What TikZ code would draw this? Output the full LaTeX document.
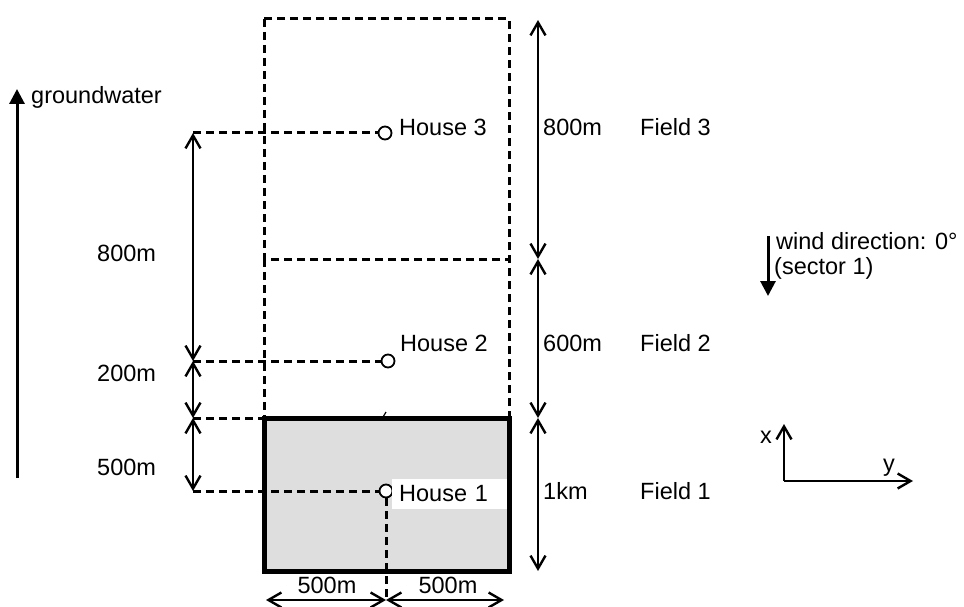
\documentclass[tikz,border=0pt]{standalone}
\usepackage{fontspec}
\setmainfont{Liberation Sans}
\usetikzlibrary{arrows.meta}
\begin{document}
\begin{tikzpicture}[x=1pt,y=-1pt,
  font=\fontsize{23.5}{27}\selectfont,
  dline/.style={line width=3pt, dash pattern=on 8pt off 5pt},
  dim/.style={line width=2.4pt, {Straight Barb[length=13pt,width=15pt]}-{Straight Barb[length=13pt,width=15pt]}},
  flow/.style={line width=3pt, -{Triangle[length=15pt,width=15pt]}},
  axis/.style={line width=2.4pt, -{Straight Barb[length=13pt,width=15pt]}},
  house/.style={circle, draw, line width=1.8pt, fill=white, minimum size=13pt, inner sep=0pt},
  lbl/.style={anchor=west, inner sep=0pt}]
\useasboundingbox (0,0) rectangle (964,607);
% field corners
\coordinate (f3tl) at (264,19);
\coordinate (f3br) at (509,259);
\coordinate (f2tl) at (264,259);
\coordinate (f2br) at (509,418);
\coordinate (f1tl) at (264,418);
\coordinate (f1br) at (509,571);
% field 1 fill
\fill[black!13] (f1tl) rectangle (f1br);
% fields 3 and 2 dashed
\draw[dline] (f3tl) rectangle (f3br);
\draw[dline] (f2tl) rectangle (f2br);
% houses
\node[house] (h3) at (385,133) {};
\node[house] (h2) at (388,361) {};
\node[house] (h1) at (386,491) {};
\node[lbl] (h3l) at (399,127) {House 3};
\node[lbl] (h2l) at (400,343) {House 2};
\node[anchor=west, fill=white, text width=102pt, inner xsep=7pt, minimum height=30pt, align=left] (h1l) at (392,494) {House 1};
% field 1 border
\draw[line width=5pt] (f1tl) rectangle (f1br);
% left dashed guide lines
\coordinate (g3) at (193,133);
\coordinate (g2) at (193,361);
\coordinate (g0) at (193,418);
\coordinate (g1) at (193,491);
\draw[dline] (g3) -- (h3.west);
\draw[dline] (g2) -- (h2.west);
\draw[dline] (g0) -- (f1tl);
\draw[dline] (g1) -- (h1.west);
\coordinate (hb) at (386,600);
\draw[dline] (h1.south) -- (hb);
% small mark
\draw[line width=1.2pt] (383,417) -- (386,412);
% left dimension arrows
\draw[dim] (g3) -- (g2);
\draw[dim] (g2) -- (g0);
\draw[dim] (g0) -- (g1);
\node[lbl] (d800) at (97,253) {800m};
\node[lbl] (d200) at (97,373) {200m};
\node[lbl] (d500) at (97,467) {500m};
% right dimension arrows
\coordinate (r3) at (538,20);
\coordinate (r2) at (538,259);
\coordinate (r1) at (538,418);
\coordinate (r0) at (538,571);
\draw[dim] (r3) -- (r2);
\draw[dim] (r2) -- (r1);
\draw[dim] (r1) -- (r0);
\node[lbl] (w3) at (543,127) {800m};
\node[lbl] (w2) at (543,343) {600m};
\node[lbl] (w1) at (543,491) {1km};
\node[lbl] (fl3) at (640,127) {Field 3};
\node[lbl] (fl2) at (640,343) {Field 2};
\node[lbl] (fl1) at (640,491) {Field 1};
% bottom dimension arrows
\coordinate (bl) at (266,600);
\coordinate (br) at (504,600);
\draw[dim] (bl) -- (hb);
\draw[dim] (hb) -- (br);
\node (b1) at (327,585) {500m};
\node (b2) at (448,585) {500m};
% groundwater
\coordinate (gw0) at (17,478);
\coordinate (gw1) at (17,89);
\draw[flow] (gw0) -- (gw1);
\node[lbl] (gwl) at (31,97) {groundwater};
% wind
\coordinate (wd0) at (768,236);
\coordinate (wd1) at (768,296);
\draw[flow] (wd0) -- (wd1);
\node[lbl] (wdl) at (776,241) {wind direction: 0°};
\node[lbl] (wds) at (774,268) {(sector 1)};
% axes
\coordinate (o) at (784,481);
\coordinate (ax) at (784,424);
\coordinate (ay) at (913,481);
\draw[axis] (o) -- (ax);
\draw[axis] (o) -- (ay);
\node (xl) at (766,437) {x};
\node (yl) at (889,468) {y};
\end{tikzpicture}
\end{document}
